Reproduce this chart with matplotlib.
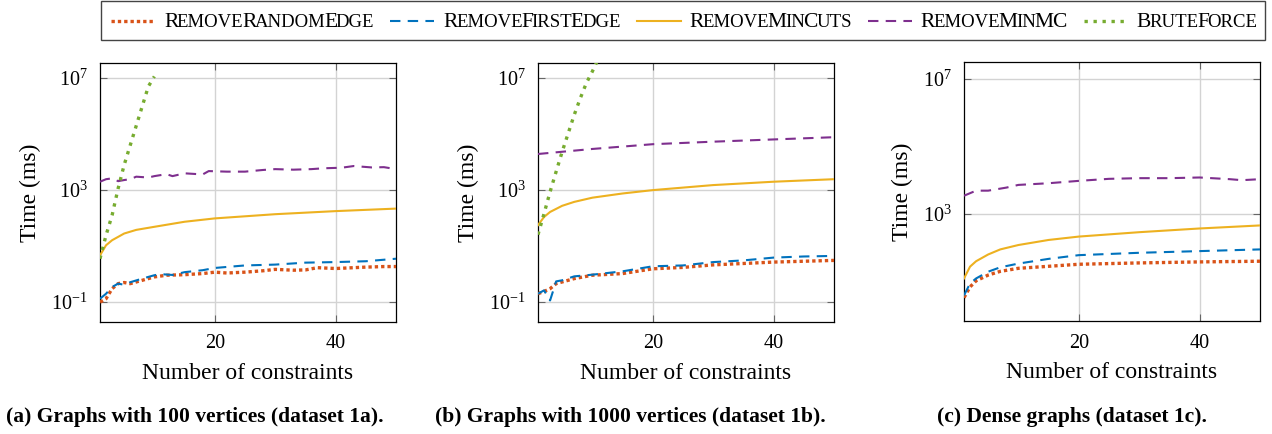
import numpy as np
import matplotlib
matplotlib.use("Agg")
import matplotlib.pyplot as plt
from matplotlib.lines import Line2D
from matplotlib.patches import Rectangle
from matplotlib.ticker import NullLocator

plt.rcParams['font.family'] = ['Liberation Serif', 'DejaVu Serif']
plt.rcParams['mathtext.fontset'] = 'custom'
plt.rcParams['mathtext.rm'] = 'Liberation Serif'
plt.rcParams['mathtext.it'] = 'Liberation Serif:italic'

# data: x = number of constraints, values = log10(time in ms)
# --- dataset 1a ---
a_random_x = [1, 2, 3, 4, 5, 6, 8, 10, 12, 15, 18, 20, 22, 25, 28, 30, 33, 35, 37, 40, 43, 45, 48, 50]
a_random_y = [-1.0, -0.88, -0.52, -0.34, -0.30, -0.34, -0.22, -0.10, -0.04, -0.02, 0.02, 0.07, 0.04, 0.07, 0.12, 0.17, 0.14, 0.15, 0.23, 0.20, 0.23, 0.25, 0.27, 0.27]
a_first_x = [1, 2, 3, 4, 5, 6, 8, 10, 11, 13, 15, 18, 20, 25, 30, 35, 40, 45, 50]
a_first_y = [-0.88, -0.70, -0.46, -0.34, -0.38, -0.29, -0.16, -0.04, 0.0, -0.03, 0.07, 0.14, 0.22, 0.31, 0.34, 0.41, 0.43, 0.46, 0.55]
a_cuts_x = [1, 2, 3, 5, 7, 10, 15, 20, 30, 40, 50]
a_cuts_y = [0.67, 1.03, 1.21, 1.45, 1.58, 1.69, 1.87, 1.99, 2.14, 2.25, 2.34]
a_mc_x = [1, 2, 3, 4, 5, 6, 7, 9, 10, 12, 13, 15, 18, 19, 22, 25, 28, 30, 33, 36, 38, 41, 43, 46, 48, 50]
a_mc_y = [3.30, 3.39, 3.42, 3.32, 3.36, 3.39, 3.48, 3.45, 3.50, 3.57, 3.50, 3.60, 3.56, 3.68, 3.66, 3.66, 3.72, 3.75, 3.73, 3.75, 3.78, 3.80, 3.86, 3.81, 3.82, 3.75]
a_brute_x = [1, 2, 3, 4, 5, 6, 7, 8, 9, 10]
a_brute_y = [0.55, 1.39, 2.10, 3.06, 3.90, 4.60, 5.30, 6.00, 6.70, 7.06]

# --- dataset 1b ---
b_random_x = [1, 2, 3, 4, 5, 7, 10, 15, 20, 25, 30, 35, 40, 45, 50]
b_random_y = [-0.70, -0.62, -0.52, -0.34, -0.28, -0.16, -0.04, 0.02, 0.19, 0.24, 0.33, 0.38, 0.43, 0.46, 0.49]
b_first_x = [1, 2, 3, 4, 5, 7, 10, 15, 20, 25, 30, 35, 40, 45, 50]
b_first_y = [-0.70, -0.58, -0.94, -0.26, -0.22, -0.08, -0.02, 0.10, 0.28, 0.31, 0.43, 0.49, 0.59, 0.63, 0.65]
b_cuts_x = [1, 2, 3, 5, 7, 10, 15, 20, 30, 40, 50]
b_cuts_y = [1.75, 2.04, 2.22, 2.44, 2.58, 2.73, 2.88, 3.00, 3.18, 3.30, 3.39]
b_mc_x = [1, 10, 20, 30, 40, 50]
b_mc_y = [4.29, 4.47, 4.64, 4.73, 4.81, 4.89]
b_brute_x = [1, 2, 3, 4, 5, 6, 7, 8, 9, 10, 11]
b_brute_y = [1.41, 2.16, 2.94, 3.66, 4.37, 5.03, 5.69, 6.28, 6.82, 7.24, 7.70]

# --- dataset 1c ---
c_random_x = [1, 2, 3, 5, 7, 10, 15, 20, 30, 40, 50]
c_random_y = [0.52, 0.84, 1.02, 1.19, 1.30, 1.39, 1.45, 1.51, 1.55, 1.58, 1.60]
c_first_x = [1, 2, 3, 5, 7, 10, 15, 20, 30, 40, 50]
c_first_y = [0.59, 0.94, 1.09, 1.29, 1.42, 1.53, 1.67, 1.78, 1.85, 1.90, 1.95]
c_cuts_x = [1, 2, 3, 5, 7, 10, 15, 20, 30, 40, 50]
c_cuts_y = [1.09, 1.44, 1.60, 1.80, 1.95, 2.08, 2.23, 2.33, 2.46, 2.57, 2.66]
c_mc_x = [1, 3, 5, 8, 10, 15, 20, 25, 30, 35, 40, 45, 47, 50]
c_mc_y = [3.54, 3.69, 3.69, 3.78, 3.86, 3.91, 3.98, 4.04, 4.06, 4.06, 4.08, 4.03, 4.00, 4.03]

names = ['RemoveRandomEdge', 'RemoveFirstEdge', 'RemoveMinCuts', 'RemoveMinMC', 'BruteForce']
colors = ['#D95319', '#0072BD', '#EDB120', '#7E2F8E', '#77AC30']
styles = [(0, (1, 0.9)), (0, (5, 3.5)), '-', (0, (5, 3.5)), (0, (1, 1.7))]
widths = [2.4, 1.5, 1.5, 1.5, 2.4]

captions = ['(a) Graphs with 100 vertices (dataset 1a).',
            '(b) Graphs with 1000 vertices (dataset 1b).',
            '(c) Dense graphs (dataset 1c).']

panels = [
    [(a_random_x, a_random_y), (a_first_x, a_first_y), (a_cuts_x, a_cuts_y), (a_mc_x, a_mc_y), (a_brute_x, a_brute_y)],
    [(b_random_x, b_random_y), (b_first_x, b_first_y), (b_cuts_x, b_cuts_y), (b_mc_x, b_mc_y), (b_brute_x, b_brute_y)],
    [(c_random_x, c_random_y), (c_first_x, c_first_y), (c_cuts_x, c_cuts_y), (c_mc_x, c_mc_y)],
]

W, H = 1272, 434
fig = plt.figure(figsize=(W / 100, H / 100), dpi=100)

# axes boxes in pixels: left, top, right, bottom
boxes = [(100, 63, 396, 322), (538, 63, 834, 322), (964, 62, 1260, 321)]
ylims = [(10 ** -1.71, 10 ** 7.54), (10 ** -1.71, 10 ** 7.54), (10 ** -0.17, 10 ** 7.5)]
yticks = [[1e-1, 1e3, 1e7], [1e-1, 1e3, 1e7], [1e3, 1e7]]
caption_x = [195, 630, 1072]

for i, series in enumerate(panels):
    l, t, r, b = boxes[i]
    ax = fig.add_axes([l / W, 1 - b / H, (r - l) / W, (b - t) / H])
    for j, (xs, ys) in enumerate(series):
        ax.plot(xs, np.power(10.0, ys), color=colors[j], ls=styles[j], lw=widths[j], zorder=3)
    ax.set_yscale('log')
    ax.set_xlim(1, 50)
    ax.set_ylim(*ylims[i])
    ax.set_xticks([20, 40])
    ax.set_yticks(yticks[i])
    ax.yaxis.set_minor_locator(NullLocator())
    ax.grid(True, color='#d3d3d3', lw=1.0, zorder=0)
    ax.tick_params(direction='in', top=True, right=True, length=5, width=0.8,
                   color='#666666', labelsize=14.5, pad=9)
    for s in ax.spines.values():
        s.set_linewidth(0.9)
    ax.set_xlabel('Number of constraints', fontsize=17, labelpad=7)
    ax.set_ylabel('Time (ms)', fontsize=17, labelpad=7)
    fig.text(caption_x[i] / W, 1 - 417 / H, captions[i], ha='center', va='center',
             fontsize=15.5, fontweight='bold')

# legend, drawn by hand so the labels can be set in small caps
renderer = fig.canvas.get_renderer()
big, small = 15.5, 13.5
kern = 1.5  # pull the caps runs a bit closer together


def caps_runs(label):
    runs = []
    for ch in label:
        up = ch.isupper()
        if runs and runs[-1][1] == up:
            runs[-1][0] += ch
        else:
            runs.append([ch, up])
    return [(txt.upper(), big if up else small) for txt, up in runs]


def text_width(s, size):
    tx = fig.text(0, 0, s, fontsize=size)
    w = tx.get_window_extent(renderer).width
    tx.remove()
    return w - kern


box_l, box_t, box_r, box_b = 101, 1, 1265, 40
handle_len, handle_gap = 44, 9
label_runs = [caps_runs(n) for n in names]
label_w = [sum(text_width(s, z) for s, z in runs) for runs in label_runs]
content = sum(handle_len + handle_gap + w for w in label_w)
inner_l, inner_r = 111, 1256
gap = (inner_r - inner_l - content) / (len(names) - 1)

fig.add_artist(Rectangle((box_l / W, 1 - box_b / H), (box_r - box_l) / W, (box_b - box_t) / H,
                         transform=fig.transFigure, fill=False, edgecolor='#444444', lw=1.0))
x = inner_l
yc = 21
ybase = 27
for j, runs in enumerate(label_runs):
    fig.add_artist(Line2D([x / W, (x + handle_len) / W], [1 - yc / H, 1 - yc / H],
                          transform=fig.transFigure, color=colors[j], ls=styles[j], lw=widths[j]))
    x += handle_len + handle_gap
    for s, z in runs:
        tx = fig.text(x / W, 1 - ybase / H, s, fontsize=z, va='baseline', ha='left')
        x += tx.get_window_extent(renderer).width - kern
    x += gap

fig.savefig('out.png', dpi=100)
